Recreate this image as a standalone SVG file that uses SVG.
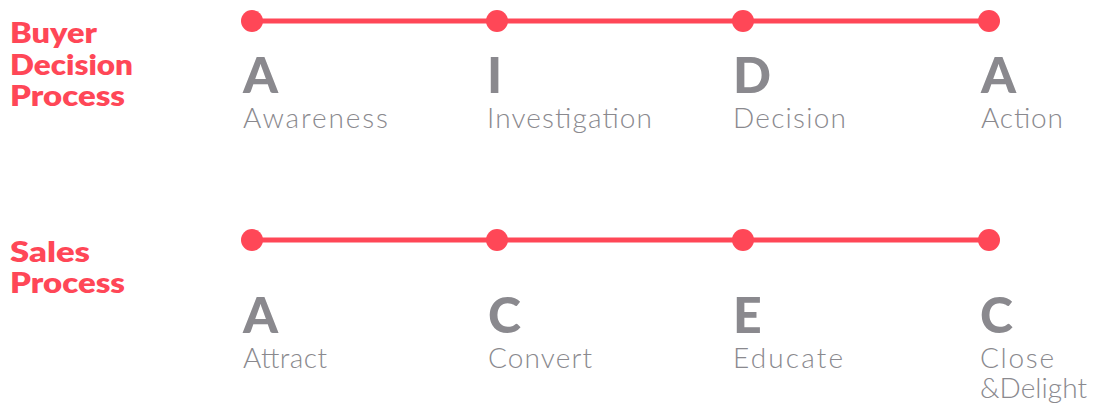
<svg xmlns="http://www.w3.org/2000/svg" width="1094" height="405" viewBox="0 0 1094 405">
<style>
.title{font-family:"Lato","Liberation Sans",sans-serif;font-weight:800;font-size:29px;fill:#ff4757}
.big{font-family:"Lato","Liberation Sans",sans-serif;font-weight:900;font-size:50px;fill:#8a898e}
.lbl{font-family:"Lato","Liberation Sans",sans-serif;font-weight:300;font-size:28px;fill:#8a898e}
.line{stroke:#ff4757;stroke-width:5}
.dot{fill:#ff4757}
</style>
<rect width="1094" height="405" fill="#fff"/>
<g id="title-buyer">
<text class="title" x="10" y="43" textLength="87" lengthAdjust="spacingAndGlyphs">Buyer</text>
<text class="title" x="10" y="75" textLength="123" lengthAdjust="spacingAndGlyphs">Decision</text>
<text class="title" x="10" y="106" textLength="115" lengthAdjust="spacingAndGlyphs">Process</text>
</g>
<g id="title-sales">
<text class="title" x="10" y="262" textLength="80" lengthAdjust="spacingAndGlyphs">Sales</text>
<text class="title" x="10" y="293" textLength="115" lengthAdjust="spacingAndGlyphs">Process</text>
</g>
<g id="connectors">
<line class="line" x1="252" y1="21" x2="989" y2="21"/>
<line class="line" x1="252" y1="240" x2="989" y2="240"/>
</g>
<g id="buyer-awareness"><circle class="dot" cx="252" cy="21" r="11"/><text class="big" x="243" y="93">A</text><text class="lbl" x="243" y="128" textLength="145">Awareness</text></g>
<g id="buyer-investigation"><circle class="dot" cx="497" cy="21" r="11"/><text class="big" x="487" y="93">I</text><text class="lbl" x="487" y="128" textLength="165">Investigation</text></g>
<g id="buyer-decision"><circle class="dot" cx="743" cy="21" r="11"/><text class="big" x="733" y="93">D</text><text class="lbl" x="733" y="128" textLength="113">Decision</text></g>
<g id="buyer-action"><circle class="dot" cx="989" cy="21" r="11"/><text class="big" x="981" y="93">A</text><text class="lbl" x="981" y="128" textLength="82">Action</text></g>
<g id="sales-attract"><circle class="dot" cx="252" cy="240" r="11"/><text class="big" x="243" y="333">A</text><text class="lbl" x="243" y="368" textLength="84">Attract</text></g>
<g id="sales-convert"><circle class="dot" cx="497" cy="240" r="11"/><text class="big" x="488" y="333">C</text><text class="lbl" x="488" y="368" textLength="104">Convert</text></g>
<g id="sales-educate"><circle class="dot" cx="743" cy="240" r="11"/><text class="big" x="733" y="333">E</text><text class="lbl" x="733" y="368" textLength="110">Educate</text></g>
<g id="sales-close"><circle class="dot" cx="989" cy="240" r="11"/><text class="big" x="980" y="333">C</text><text class="lbl" x="980" y="368" textLength="74">Close</text><text class="lbl" x="980" y="398" textLength="107">&amp;Delight</text></g>
</svg>
